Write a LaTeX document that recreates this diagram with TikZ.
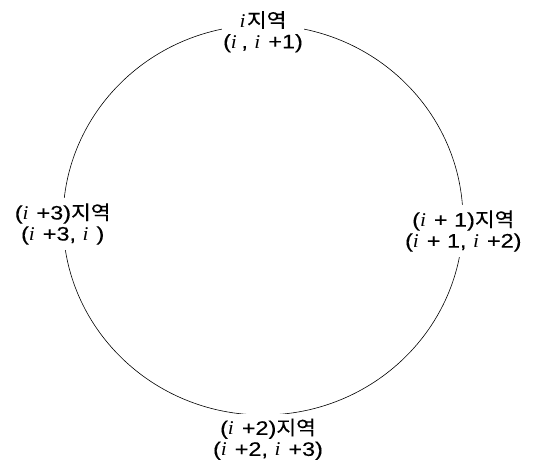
\documentclass[tikz,border=0pt]{standalone}
\usepackage{fontspec}
\setmainfont[FakeStretch=1.2,FakeBold=0.2]{Liberation Sans}
\newfontfamily\krfont[FakeStretch=1.1,FakeBold=0.2]{Noto Sans CJK KR}
\newfontfamily\ifont[FakeStretch=1.1]{Liberation Serif}
\usetikzlibrary{
  shapes.geometric,
  positioning
}
\newcommand{\ri}{{\ifont\itshape i}\kern1.5pt}
\newcommand{\jy}{{\krfont 지역}}
\tikzset{
  ring/.style={
    draw,
    ellipse,
    line width=0.6pt,
    minimum width=400pt,
    minimum height=390pt,
    inner sep=0pt
  },
  region/.style={
    fill=white,
    align=center,
    font=\fontsize{19.5}{21}\selectfont,
    inner xsep=1pt,
    inner ysep=5pt
  }
}
\begin{document}
\begin{tikzpicture}[
  x=1pt,
  y=1pt
]
  \useasboundingbox (0,0) rectangle (535,466);

  \node[ring] (ring) at (263,246) {};

  \node[region, yshift=-7pt] (region0) at (ring.north) {
    \ri\jy\\
    (\ri\kern3pt, \ri\ +1)
  };

  \node[region, yshift=-11pt] (region1) at (ring.east) {
    (\ri\ + 1)\jy\\
    (\ri\ + 1, \ri\ +2)
  };

  \node[region, xshift=5pt, yshift=-24pt] (region2) at (ring.south) {
    (\ri\ +2)\jy\\
    (\ri\ +2, \ri\ +3)
  };

  \node[region, yshift=-4pt] (region3) at (ring.west) {
    (\ri\ +3)\jy\\
    (\ri\ +3, \ri\ )
  };

\end{tikzpicture}
\end{document}
